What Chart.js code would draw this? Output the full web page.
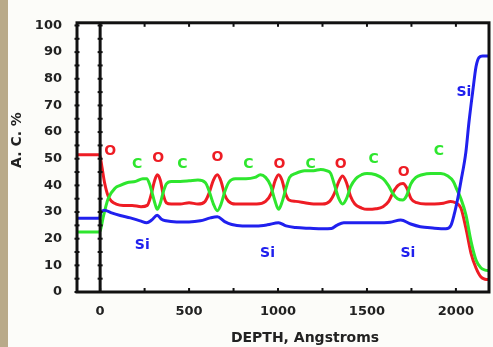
<!DOCTYPE html>
<html>
<head>
<meta charset="utf-8">
<script src="https://cdn.jsdelivr.net/npm/chart.js@4/dist/chart.umd.min.js"></script>
<style>
  html, body { margin: 0; padding: 0; background: #fcfcf9; }
  #wrap { position: relative; width: 493px; height: 347px; }
  #strip { position: absolute; left: 0; top: 0; width: 8px; height: 347px; background: #b9aa8a; }
  canvas { position: absolute; left: 0; top: 0; }
</style>
</head>
<body>
<div id="wrap">
  <canvas id="graph" width="493" height="347"></canvas>
  <div id="strip"></div>
</div>
<script>
// profondeur (Angstroms), % atomique
const oxygen = [[-130,51.5],[-3,51.5],[10,47],[25,41],[45,36],[65,34],[90,33],[130,32.5],[180,32.5],[230,32],[265,32.5],[285,36],[305,41.5],[321,44],[338,42],[355,36.5],[372,33.5],[400,33],[450,33],[500,33.5],[550,33],[590,34],[612,37],[637,42],[659,44],[680,41.5],[700,36.5],[722,34],[760,33],[820,33],[880,33],[930,34],[962,37],[985,42],[1003,44],[1022,42],[1042,37],[1062,34.5],[1100,34],[1150,33.5],[1200,33],[1250,33],[1290,34],[1317,37],[1342,41.5],[1363,43.5],[1385,41],[1407,36],[1432,33],[1470,31.5],[1500,31],[1550,31.2],[1590,32],[1622,34],[1648,37.5],[1675,40],[1703,40.7],[1724,39],[1748,35],[1780,33.5],[1830,33],[1880,33],[1930,33.3],[1970,34],[1998,33.5],[2028,31.5],[2056,24],[2085,14.5],[2113,9],[2141,5.6],[2165,4.8],[2186,4.6]]

const carbon = [[-130,22.5],[-3,22.5],[5,24],[17,28],[45,35],[85,39],[113,40],[150,41],[200,41.5],[240,42.5],[262,42.5],[278,40.5],[293,37],[307,33.5],[321,31],[337,33],[355,37.5],[372,40.5],[400,41.5],[450,41.5],[500,41.7],[550,42],[592,41],[612,38],[637,33],[659,30.5],[680,33],[700,37.5],[722,41],[760,42.5],[820,42.5],[870,43],[901,44],[930,43],[958,40],[982,34.5],[1003,31],[1024,34],[1045,39],[1065,43],[1100,44.5],[1150,45.5],[1200,45.5],[1240,46],[1272,45.5],[1296,44.5],[1318,40],[1342,35],[1363,33],[1385,35],[1408,39.5],[1437,42.5],[1470,44],[1500,44.5],[1549,44],[1590,42.5],[1620,40],[1645,37],[1672,35],[1701,34.5],[1722,36],[1746,40.5],[1775,43],[1810,44],[1860,44.5],[1915,44.5],[1955,43.5],[1985,41.5],[2005,38.5],[2028,35],[2056,29],[2085,19],[2113,12],[2141,9],[2165,8.2],[2186,8]]

const silicon = [[-130,27.7],[-3,27.7],[5,30],[25,30.7],[60,29.8],[113,28.7],[170,27.8],[225,26.7],[262,26],[290,27],[321,28.8],[345,27.3],[370,26.7],[430,26.3],[500,26.3],[563,26.7],[620,27.8],[659,28.2],[700,26.4],[740,25.3],[800,24.8],[880,24.8],[940,25.2],[1003,26],[1045,24.8],[1100,24.2],[1180,23.9],[1250,23.7],[1300,23.8],[1330,25],[1370,26],[1450,26],[1550,26],[1630,26.2],[1690,27],[1746,25.5],[1800,24.5],[1870,24],[1944,23.7],[1972,25],[1990,29],[2010,35],[2028,41.5],[2056,52.5],[2073,63.5],[2096,76],[2113,84.5],[2130,88],[2150,88.5],[2186,88.5]]

// etiquettes posees sur le graphe
const oLabels = [[56,52.6],[327,50],[659,50.4],[1008,47.8],[1352,47.8],[1707,44.8]]
const cLabels = [[208,47.8],[462,47.8],[834,47.8],[1183,47.8],[1538,49.6],[1904,52.6]]
const siLabels = [[237,17.4],[941,14.4],[1730,14.4],[2045,74.8]]

const xTicks = [0,250,500,750,1000,1250,1500,1750,2000]
const yTicks = [0,10,20,30,40,50,60,70,80,90,100]
const yMinor = [5,15,25,35,45,55,65,75,85,95]

const RED = '#ee1c24', GREEN = '#2ee62e', BLUE = '#2020ee'
const FONT = 'DejaVu Sans'

const toPts = arr => arr.map(p => ({x: p[0], y: p[1]}))

const decor = {
  id: 'decor',
  beforeDraw(chart) {
    const {ctx, chartArea: a} = chart
    ctx.save()
    ctx.fillStyle = '#ffffff'
    ctx.fillRect(a.left, a.top, a.right - a.left, a.bottom - a.top)
    ctx.restore()
  },
  afterDatasetsDraw(chart) {
    const {ctx, chartArea: a, scales} = chart
    const xs = scales.x, ys = scales.y
    ctx.save()
    ctx.strokeStyle = '#111'
    ctx.lineWidth = 3
    ctx.strokeRect(a.left, a.top, a.right - a.left, a.bottom - a.top)
    // ligne du zero
    const x0 = xs.getPixelForValue(0)
    ctx.beginPath(); ctx.moveTo(x0, a.top); ctx.lineTo(x0, a.bottom); ctx.stroke()

    ctx.lineWidth = 2
    yTicks.concat(yMinor).forEach(v => {
      const py = ys.getPixelForValue(v)
      ;[a.left, x0].forEach(px => {
        ctx.beginPath(); ctx.moveTo(px - 2.5, py); ctx.lineTo(px + 2.5, py); ctx.stroke()
      })
    })
    xTicks.forEach(v => {
      const px = xs.getPixelForValue(v)
      ctx.beginPath(); ctx.moveTo(px, a.bottom); ctx.lineTo(px, a.bottom - 4); ctx.stroke()
      ctx.beginPath(); ctx.moveTo(px, a.top); ctx.lineTo(px, a.top + 4); ctx.stroke()
    })

    ctx.font = 'bold 14px ' + FONT
    ctx.textAlign = 'center'
    ctx.textBaseline = 'middle'
    const put = (list, txt, col) => {
      ctx.fillStyle = col
      list.forEach(p => ctx.fillText(txt, xs.getPixelForValue(p[0]), ys.getPixelForValue(p[1])))
    }
    put(oLabels, 'O', RED)
    put(cLabels, 'C', GREEN)
    put(siLabels, 'Si', BLUE)

    ctx.fillStyle = '#222'
    ctx.fillText('DEPTH, Angstroms', 305, 338)
    ctx.translate(17, 140)
    ctx.rotate(-Math.PI / 2)
    ctx.fillText('A. C. %', 0, 0)
    ctx.restore()
  }
}

const ds = (data, col) => ({
  data: toPts(data),
  borderColor: col,
  borderWidth: 3,
  pointRadius: 0,
  cubicInterpolationMode: 'monotone',
  fill: false
})

new Chart(document.getElementById('graph'), {
  type: 'line',
  data: {
    datasets: [ds(silicon, BLUE), ds(carbon, GREEN), ds(oxygen, RED)]
  },
  options: {
    responsive: false,
    devicePixelRatio: 1,
    animation: false,
    layout: { padding: { top: 18, right: 4, left: 0, bottom: 0 } },
    plugins: { legend: { display: false }, tooltip: { enabled: false } },
    scales: {
      x: {
        type: 'linear',
        min: -130, max: 2186,
        afterBuildTicks: s => { s.ticks = xTicks.map(v => ({value: v})) },
        afterFit: s => { s.height = 55 },
        grid: { display: false, drawTicks: false },
        border: { display: false },
        ticks: {
          autoSkip: false, maxRotation: 0, padding: 12,
          color: '#222', font: { family: FONT, weight: 'bold', size: 13 },
          callback: v => (v % 500 === 0 ? String(v) : '')
        }
      },
      y: {
        min: 0, max: 101,
        afterBuildTicks: s => { s.ticks = yTicks.map(v => ({value: v})) },
        afterFit: s => { s.width = 77 },
        grid: { display: false, drawTicks: false },
        border: { display: false },
        ticks: {
          padding: 15,
          color: '#222', font: { family: FONT, weight: 'bold', size: 13 }
        }
      }
    }
  },
  plugins: [decor]
})
</script>
</body>
</html>
